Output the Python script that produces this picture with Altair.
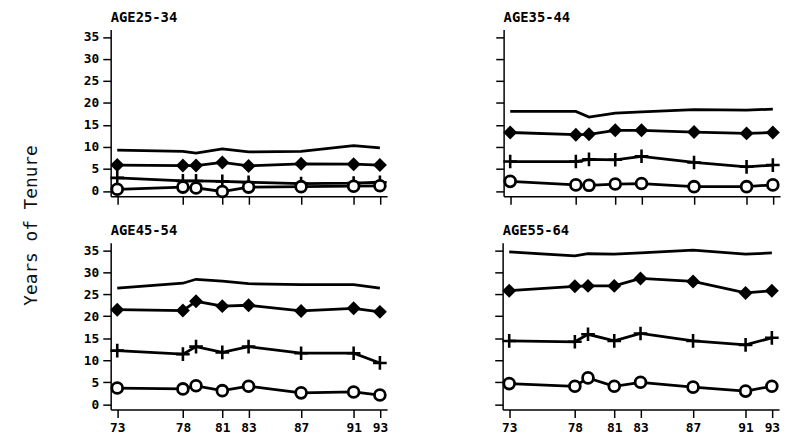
import altair as alt
import pandas as pd

years = [73, 78, 79, 81, 83, 87, 91, 93]
tick_years = [73, 78, 81, 83, 87, 91, 93]
y_ticks = [0, 5, 10, 15, 20, 25, 30, 35]
groups = ["AGE25-34", "AGE35-44", "AGE45-54", "AGE55-64"]
series_names = ["top", "diamond", "plus", "circle"]

# values, per age group, in the order of series_names
age25_34_top = [9.3, 9.0, 8.6, 9.6, 8.9, 9.0, 10.3, 9.8]
age25_34_diamond = [5.9, 5.8, 5.8, 6.5, 5.7, 6.2, 6.1, 5.9]
age25_34_plus = [3.0, 2.3, 2.3, 2.2, 2.0, 1.7, 1.8, 2.0]
age25_34_circle = [0.4, 0.9, 0.7, -0.1, 0.9, 1.0, 1.1, 1.2]

age35_44_top = [18.1, 18.1, 16.8, 17.7, 18.0, 18.5, 18.4, 18.6]
age35_44_diamond = [13.3, 12.8, 12.9, 13.8, 13.8, 13.4, 13.1, 13.3]
age35_44_plus = [6.7, 6.7, 7.2, 7.1, 7.9, 6.5, 5.5, 5.9]
age35_44_circle = [2.2, 1.4, 1.3, 1.6, 1.7, 1.0, 1.0, 1.4]

age45_54_top = [26.4, 27.5, 28.4, 28.0, 27.4, 27.2, 27.2, 26.4]
age45_54_diamond = [21.5, 21.3, 23.4, 22.3, 22.5, 21.2, 21.8, 21.0]
age45_54_plus = [12.2, 11.4, 13.1, 11.8, 13.1, 11.6, 11.6, 9.4]
age45_54_circle = [3.7, 3.5, 4.2, 3.1, 4.1, 2.6, 2.8, 2.1]

age55_64_top = [34.6, 33.7, 34.2, 34.1, 34.4, 35.0, 34.1, 34.4]
age55_64_diamond = [25.8, 26.8, 26.9, 26.9, 28.6, 27.9, 25.3, 25.8]
age55_64_plus = [14.4, 14.2, 15.9, 14.4, 16.1, 14.4, 13.5, 15.1]
age55_64_circle = [4.7, 4.1, 6.0, 4.1, 5.0, 3.9, 3.0, 4.1]

group_values = {
    "AGE25-34": [age25_34_top, age25_34_diamond, age25_34_plus, age25_34_circle],
    "AGE35-44": [age35_44_top, age35_44_diamond, age35_44_plus, age35_44_circle],
    "AGE45-54": [age45_54_top, age45_54_diamond, age45_54_plus, age45_54_circle],
    "AGE55-64": [age55_64_top, age55_64_diamond, age55_64_plus, age55_64_circle],
}

rows = []
for g in groups:
    for s, vals in zip(series_names, group_values[g]):
        for yr, v in zip(years, vals):
            rows.append({"group": g, "series": s, "year": yr, "value": v})
df = pd.DataFrame(rows)

MONO = "DejaVu Sans Mono"


def panel(g, show_x, show_y):
    d = df[df["group"] == g]
    xenc = alt.X(
        "year:Q",
        scale=alt.Scale(domain=[72.5, 93.55], nice=False, zero=False),
        axis=alt.Axis(values=tick_years, labels=show_x, title=None, grid=False,
                      tickSize=8, labelPadding=4, format="d"),
    )
    yenc = alt.Y(
        "value:Q",
        scale=alt.Scale(domain=[-1.2, 36.7], nice=False, zero=False),
        axis=alt.Axis(values=y_ticks, labels=show_y, title=None, grid=False,
                      tickSize=8, labelPadding=4, format="d"),
    )
    base = alt.Chart(d).encode(x=xenc, y=yenc)
    lines = base.mark_line(color="black", strokeWidth=2.8).encode(detail="series:N")
    dia = base.transform_filter(alt.datum.series == "diamond").mark_point(
        shape="diamond", filled=True, color="black", size=200, opacity=1)
    plus = base.transform_filter(alt.datum.series == "plus").mark_point(
        shape="M-1,0H1M0,-1V1", filled=False, color="black", size=190,
        strokeWidth=2.6, opacity=1)
    circ = base.transform_filter(alt.datum.series == "circle").mark_point(
        shape="circle", filled=True, fill="white", stroke="black",
        strokeWidth=2.8, size=120, opacity=1)
    return alt.layer(lines, dia, plus, circ).properties(
        width=280, height=169,
        title=alt.TitleParams(g, anchor="start", frame="group", fontSize=14, font=MONO,
                              fontWeight="bold", offset=5, color="black"),
    )


p1 = panel("AGE25-34", False, True)
p2 = panel("AGE35-44", False, False)
p3 = panel("AGE45-54", True, True)
p4 = panel("AGE55-64", True, False)

ytitle = alt.Chart(pd.DataFrame({"v": [0]})).mark_point(opacity=0).encode(
    y=alt.Y("v:Q", axis=alt.Axis(title="Years of Tenure", labels=False, ticks=False,
                                 domain=False, grid=False, titleFont=MONO,
                                 titleFontSize=18, titleFontWeight="normal",
                                 titlePadding=0, titleY=198, titleColor="#111"))
).properties(width=1, height=380)

grid = alt.vconcat(
    alt.hconcat(p1, p2, spacing=104),
    alt.hconcat(p3, p4, spacing=103),
    spacing=19,
)

chart = alt.hconcat(ytitle, grid, spacing=39).properties(
    padding={"left": 15, "top": 0, "right": 0, "bottom": 0}
).configure_view(stroke=None).configure_axis(
    domainColor="black", tickColor="black", domainWidth=1.5, tickWidth=1.5,
    labelFont=MONO, labelFontSize=13, labelFontWeight="bold", labelColor="black",
)

chart.save("out.html", embed_options={"renderer": "svg", "actions": False})
